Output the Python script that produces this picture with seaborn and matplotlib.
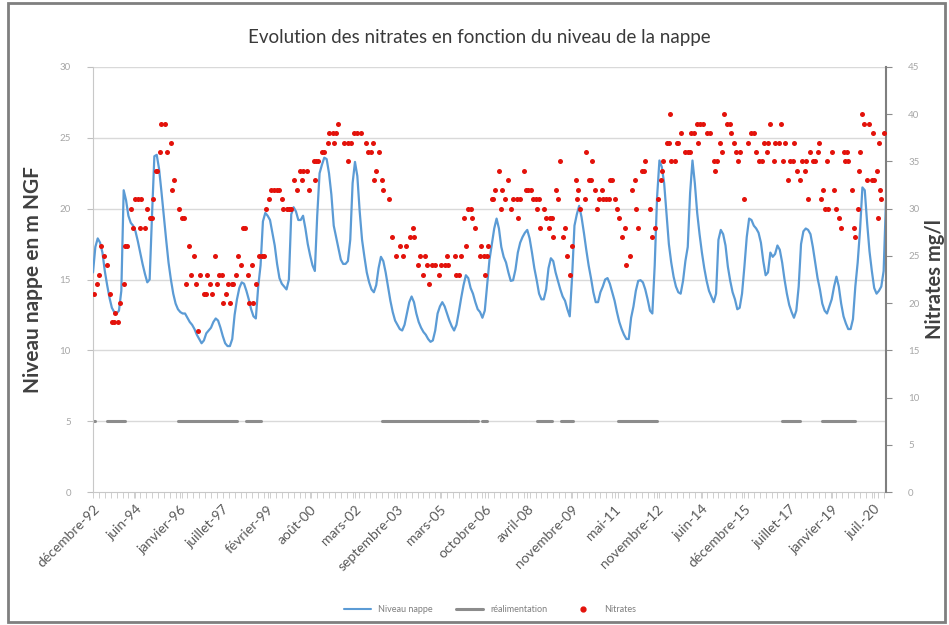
import numpy as np
import pandas as pd
import matplotlib
matplotlib.use("Agg")
import matplotlib.pyplot as plt
from matplotlib.lines import Line2D
from matplotlib.patches import Rectangle
from matplotlib.ticker import MultipleLocator, FixedLocator
import seaborn as sns

# Groundwater level (m NGF), one value per month from December 1992 (month 0)
niveau_nappe = [
    15.5, 17.3, 17.9, 17.6, 16.9, 15.6, 14.6, 13.7, 13.0, 12.7,
    12.6, 12.8, 14.2, 21.3, 20.6, 19.5, 19.0, 18.8, 18.4, 17.7,
    16.9, 16.1, 15.4, 14.8, 15.0, 19.5, 23.7, 23.8, 22.8, 21.2,
    19.5, 17.8, 16.2, 15.0, 14.0, 13.3, 12.9, 12.7, 12.6, 12.6,
    12.3, 12.0, 11.8, 11.5, 11.1, 10.8, 10.5, 10.7, 11.2, 11.4,
    11.6, 12.0, 12.25, 12.1, 11.6, 11.0, 10.5, 10.3, 10.3, 10.8,
    12.5, 13.6, 14.4, 14.8, 14.7, 14.2, 13.6, 12.9, 12.4, 12.25,
    14.5, 16.0, 19.1, 19.7, 19.5, 19.2, 18.3, 17.4, 16.1, 15.1,
    14.7, 14.5, 14.3, 15.0, 19.6, 20.1, 19.8, 19.2, 19.2, 19.5,
    18.6, 17.5, 16.7, 16.0, 15.6, 19.5, 22.5, 23.1, 23.6, 23.5,
    22.5, 21.0, 18.8, 18.0, 17.2, 16.4, 16.1, 16.1, 16.3, 17.8,
    21.8, 23.3, 22.3, 19.8, 17.8, 16.6, 15.5, 14.8, 14.3, 14.1,
    14.6, 15.8, 16.6, 16.3, 15.5, 14.5, 13.5, 12.7, 12.1, 11.8,
    11.5, 11.4, 11.8, 12.6, 13.4, 13.8, 13.4, 12.6, 12.0, 11.6,
    11.3, 11.1, 10.8, 10.6, 10.7, 11.4, 12.6, 13.1, 13.4, 13.1,
    12.6, 12.1, 11.7, 11.4, 11.8, 12.7, 13.7, 14.6, 15.3, 15.1,
    14.4, 14.0, 13.4, 12.9, 12.7, 12.3, 12.8, 14.6, 16.4, 17.5,
    18.6, 19.3, 18.6, 17.3, 16.6, 16.2, 15.5, 14.9, 14.95, 15.7,
    16.9, 17.6, 18.0, 18.3, 18.5, 17.9, 16.9, 15.8, 14.95, 14.0,
    13.6, 13.6, 14.3, 15.8, 16.5, 16.3, 15.5, 14.9, 14.3, 13.8,
    13.5, 12.9, 12.4, 15.2, 18.8, 19.6, 20.2, 19.4, 18.3, 17.1,
    16.0, 15.1, 14.1, 13.4, 13.4, 14.1, 14.5, 15.0, 15.1, 14.7,
    14.1, 13.5, 12.7, 12.0, 11.5, 11.1, 10.8, 10.8, 12.3, 13.1,
    14.2, 14.9, 14.95, 14.8, 14.3, 13.6, 12.8, 12.6, 16.0, 20.8,
    23.4, 22.95, 21.8, 19.6, 17.5, 16.2, 15.2, 14.5, 14.1, 14.0,
    14.9, 16.3, 17.3, 21.1, 23.4, 21.8, 19.7, 18.2, 16.9, 15.8,
    14.9, 14.2, 13.8, 13.4, 14.0, 17.8, 18.5, 18.2, 17.4, 15.9,
    14.9, 14.1, 13.6, 12.9, 13.0, 14.0, 15.9, 18.0, 19.3, 19.2,
    18.8, 18.6, 18.3, 17.6, 16.3, 15.3, 15.5, 16.9, 16.6, 16.8,
    17.4, 17.1, 16.2, 15.0, 14.0, 13.2, 12.7, 12.3, 12.8, 14.5,
    17.5, 18.4, 18.6, 18.5, 18.2, 17.3, 16.2, 15.1, 14.3, 13.3,
    12.8, 12.6, 13.1, 13.6, 14.5, 15.2, 14.5, 13.3, 12.4, 11.9,
    11.5, 11.5, 12.2, 14.5, 16.2, 18.5, 21.5, 21.3, 19.0, 17.0,
    15.6, 14.4, 14.0, 14.2, 14.5, 15.6, 20.6,
]

# Nitrate samples: position in months after December 1992, concentration in mg/l
nitrates_mois = [
    0.5, 1.5, 2.5, 3.5, 4.5, 6, 7, 8, 9, 9.5, 10.5, 11.5, 13, 13.5, 14.5, 16, 17, 18, 19, 20,
    20.5, 22, 23, 24, 25, 25.5, 26.5, 27, 28.5, 29, 30.5, 31.5, 33, 33.5, 34.5, 36.5, 37.5, 38.5,
    39.5, 40.5, 41.5, 43, 43.5, 44.5, 45.5, 47, 48, 48.5, 49.5, 50.5, 51.5, 52.5, 53.5, 54.5, 55,
    56.5, 57, 58, 59, 59.5, 60.5, 61.5, 62.5, 63.5, 64.5, 65.5, 66, 67.5, 68, 69, 70.5, 71.5, 72.5,
    73.5, 74.5, 75.5, 76.5, 78, 79, 80, 80.5, 82, 83, 84,
    85, 86.5, 87.5, 88.5, 89, 90.5, 91.5, 93.5, 94, 94.5, 95.5, 97, 98, 99.5, 100, 101.5, 102,
    103, 104, 106.5, 108, 108, 109.5, 110.5, 112, 113.5, 115.5, 116.5, 118, 118.5, 119, 120, 121,
    122.5, 123, 125.5, 126.5, 128.5, 130, 131.5, 132.5, 134.5, 135.5, 136, 137.5, 138.5, 140,
    140.5, 141.5, 142.5, 143.5, 145, 146.5, 147.5, 149, 150, 150.5, 153.5, 154, 155, 156, 157,
    158, 159, 160, 160.5, 162, 164, 164.5,
    165.5, 166, 167, 167.5, 169, 169.5, 170.5, 172, 173, 173.5, 174.5, 176, 177, 178, 179.5, 180,
    181, 182.5, 183.5, 184.5, 185.5, 186.5, 187.5, 188, 189, 189.5, 191, 192, 193, 193.5, 194.5,
    195, 196, 197, 198, 199, 200, 201, 202, 203, 204.5, 205, 205.5, 206.5, 208.5, 209, 210, 211,
    211.5, 212.5, 213.5, 214.5, 215.5, 216, 217.5, 218.5, 219, 220, 221, 222, 223, 224, 225.5,
    226, 227.5, 228.5, 229.5, 230, 231, 232.5, 233.5, 234, 236, 237, 238, 239.5, 240.5, 241,
    241.5, 243, 244, 244.5, 245, 246.5, 247.5,
    248, 249, 251, 252, 253, 253.5, 254.5, 256, 256.5, 257, 258.5, 260, 261.5, 263, 263.5, 264.5,
    265.5, 266.5, 267.5, 268.5, 270, 270.5, 271.5, 272.5, 273.5, 274, 276, 277.5, 279, 280, 281,
    282, 283.5, 284.5, 285.5, 286, 287, 288.5, 289, 290.5, 291.5, 292.5, 293, 294.5, 295.5, 296.5,
    297, 298.5, 299.5, 300.5, 301.5, 302, 303, 304, 305, 306, 307, 307.5, 308.5, 309.5, 310,
    311, 311.5, 313, 314, 315, 316, 317, 318, 318.5, 319.5, 320, 321.5, 322.5, 323, 324, 324.5,
    325, 326, 326.5, 328, 329, 330, 330.5, 331, 332, 332.5, 333, 333.5, 334, 335,
]
nitrates_mgl = [
    21, 22, 23, 26, 25, 24, 21, 18, 18, 19, 18, 20, 22, 26, 26, 30, 28, 31, 31, 28,
    31, 28, 30, 29, 29, 31, 34, 34, 36, 39, 39, 36, 37, 32, 33, 30, 29, 29,
    22, 26, 23, 25, 22, 17, 23, 21, 21, 23, 22, 21, 25, 22, 23, 23, 20,
    21, 22, 20, 22, 22, 23, 25, 24, 28, 28, 23, 20, 24, 20, 22, 25, 25, 25,
    30, 31, 32, 32, 32, 32, 31, 30, 30, 30, 30,
    33, 32, 34, 33, 34, 34, 32, 35, 33, 35, 35, 36, 36, 37, 38, 38, 37,
    38, 39, 37, 37, 35, 37, 38, 38, 38, 37, 36, 36, 37, 33, 34, 36,
    33, 32, 31, 27, 25, 26, 25, 26, 27, 28, 27, 24, 25, 23,
    25, 24, 22, 24, 24, 23, 24, 24, 25, 24, 25, 23, 23, 25, 29,
    26, 30, 30, 29, 28, 25, 26,
    25, 23, 25, 26, 31, 31, 32, 34, 30, 32, 31, 33, 30, 31, 31, 29,
    31, 34, 32, 32, 32, 31, 31, 30, 31, 28, 30, 29, 28, 29, 29,
    27, 32, 31, 35, 27, 28, 25, 23, 26, 33, 31, 32, 30, 31, 36, 33, 33,
    35, 32, 30, 31, 32, 31, 31, 31, 33, 33, 31, 30, 29, 27, 28,
    24, 25, 32, 33, 30, 28, 34, 34, 35, 30, 27, 28, 31, 33, 34,
    35, 37, 37, 40, 35, 35, 37,
    37, 38, 36, 36, 36, 38, 38, 39, 37, 39, 39, 38, 38, 35, 34, 35,
    37, 36, 40, 39, 39, 38, 37, 36, 35, 36, 31, 37, 38, 38, 36,
    35, 35, 37, 36, 37, 39, 35, 37, 37, 39, 35, 37, 33, 35, 35,
    37, 34, 33, 35, 34, 35, 31, 36, 35, 35, 36, 37, 31, 32, 30,
    35, 30, 36, 32, 30, 29, 28, 36, 35, 36, 35, 32, 28, 27, 30, 34,
    36, 40, 39, 33, 39, 33, 38, 33, 34, 29, 37, 32, 31, 38,
]

# Artificial recharge periods (start and end month), drawn at 5 m
realim_debut = [0, 6, 36, 65, 122.5, 159, 165, 188, 198.5, 222.5, 292, 309]
realim_fin = [1, 13.5, 61, 71, 158.5, 163, 167, 194.5, 203.5, 239, 299.5, 323]
realim_niveau = 5

# Category labels along the time axis
etiquettes_mois = [0, 18, 37, 55, 74, 92, 111, 129, 147, 166, 184, 203, 221, 239, 258, 276, 295, 313, 331]
etiquettes = ['décembre-92', 'juin-94', 'janvier-96', 'juillet-97', 'février-99', 'août-00',
              'mars-02', 'septembre-03', 'mars-05', 'octobre-06', 'avril-08', 'novembre-09',
              'mai-11', 'novembre-12', 'juin-14', 'décembre-15', 'juillet-17', 'janvier-19',
              'juil.-20']

sns.set_theme(style="white")
plt.rcParams['font.family'] = ['Lato', 'DejaVu Sans']

BLUE = '#5b9bd5'
RED = '#e3120b'
GREY = '#8c8c8c'
TXT = '#595959'

df_niveau = pd.DataFrame({'mois': np.arange(len(niveau_nappe)), 'niveau': niveau_nappe})
df_nitr = pd.DataFrame({'mois': nitrates_mois, 'nitrates': nitrates_mgl})
df_realim = pd.concat(
    [pd.DataFrame({'mois': [a, b], 'niveau': [realim_niveau, realim_niveau], 'periode': i})
     for i, (a, b) in enumerate(zip(realim_debut, realim_fin))],
    ignore_index=True)

fig = plt.figure(figsize=(9.49, 6.25), dpi=100)
ax = fig.add_axes([93 / 949, 1 - 492 / 625, (886 - 93) / 949, (492 - 67) / 625])

# horizontal gridlines on the level axis
for yv in range(5, 31, 5):
    ax.axhline(yv, color='#d9d9d9', lw=1.0, zorder=0)

sns.lineplot(data=df_realim, x='mois', y='niveau', units='periode', estimator=None,
             color=GREY, lw=2.2, ax=ax, zorder=2)
sns.lineplot(data=df_niveau, x='mois', y='niveau', color=BLUE, lw=1.6, ax=ax, zorder=3)

ax.set_xlim(0, 336)
ax.set_ylim(0, 30)
ax.set_xlabel('')
ax.set_ylabel('Niveau nappe en m NGF', fontsize=15, fontweight='bold', color='#404040',
              labelpad=12)
ax.yaxis.set_major_locator(MultipleLocator(5))
ax.tick_params(axis='y', which='major', length=4, width=0.8, color='#bfbfbf',
               labelsize=7, labelcolor='#a6a6a6', left=True, pad=12)
ax.xaxis.set_major_locator(FixedLocator(etiquettes_mois))
ax.set_xticklabels(etiquettes, rotation=45, ha='right', rotation_mode='anchor',
                   fontsize=10, color=TXT)
ax.xaxis.set_minor_locator(MultipleLocator(2.5))
ax.tick_params(axis='x', which='both', length=4, width=0.6, color='#c8c8c8', bottom=True,
               pad=4)
for s in ['top', 'right']:
    ax.spines[s].set_visible(False)
ax.spines['left'].set_color('#c8c8c8')
ax.spines['bottom'].set_color('#c8c8c8')
ax.spines['left'].set_linewidth(0.8)
ax.spines['bottom'].set_linewidth(0.8)

ax2 = ax.twinx()
sns.scatterplot(data=df_nitr, x='mois', y='nitrates', color=RED, s=13, linewidth=0,
                ax=ax2, zorder=4)
ax2.set_ylim(0, 45)
ax2.set_xlim(0, 336)
ax2.yaxis.set_major_locator(MultipleLocator(5))
ax2.set_ylabel('Nitrates mg/l', fontsize=14.5, fontweight='bold', color='#404040',
               labelpad=4)
ax2.tick_params(axis='y', length=4, width=0.8, color='#8c8c8c', labelsize=7,
                labelcolor='#a6a6a6', right=True, pad=12)
for s in ['top', 'left', 'bottom']:
    ax2.spines[s].set_visible(False)
ax2.spines['right'].set_color('#7f7f7f')
ax2.spines['right'].set_linewidth(1.5)
ax2.grid(False)
ax.grid(False)

fig.text(479 / 949, 1 - 38 / 625, 'Evolution des nitrates en fonction du niveau de la nappe',
         ha='center', va='center', fontsize=13.5, color='#3a3a3a')

handles = [Line2D([], [], color=BLUE, lw=1.5),
           Line2D([], [], color=GREY, lw=2.2),
           Line2D([], [], color=RED, lw=0, marker='o', markersize=3.5)]
fig.legend(handles, ['Niveau nappe', 'réalimentation', 'Nitrates'], loc='center',
           bbox_to_anchor=(490 / 949, 1 - 610 / 625), ncol=3, frameon=False, fontsize=6.5,
           labelcolor='#7f7f7f', handlelength=3, columnspacing=2.5)

fig.patches.append(Rectangle((8 / 949, 3 / 625), 937 / 949, 619 / 625,
                             transform=fig.transFigure, fill=False, ec='#7f7f7f', lw=2))

fig.savefig('out.png', dpi=100)
